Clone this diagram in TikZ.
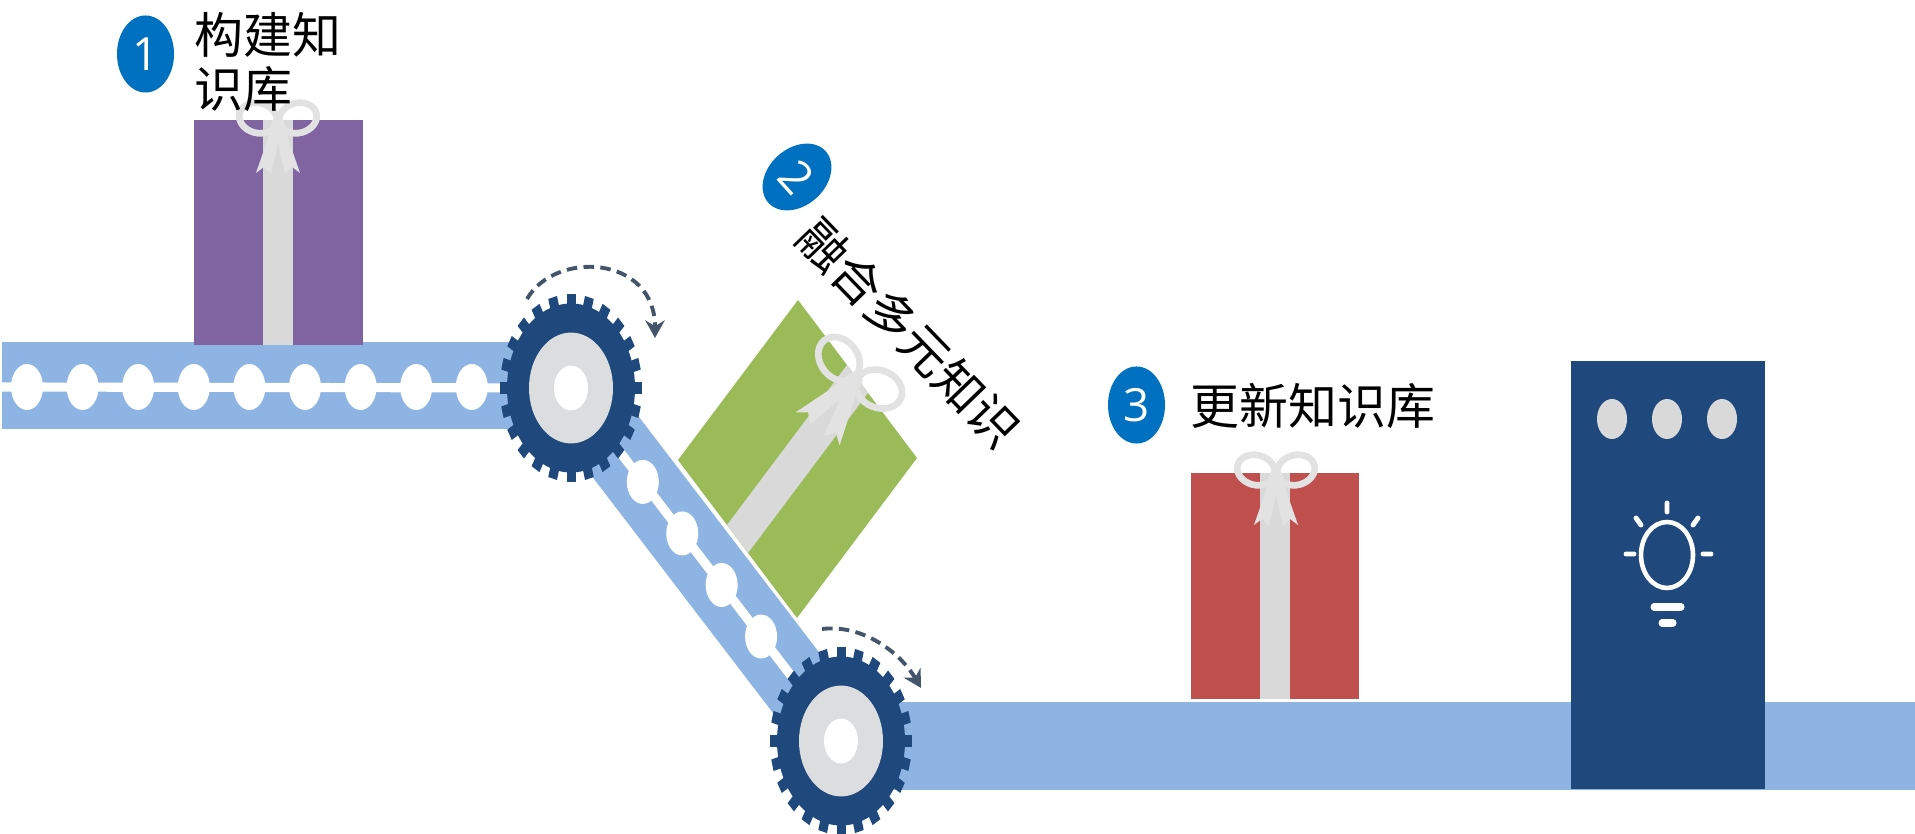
\documentclass[tikz,border=0pt]{standalone}
\usepackage{fontspec}
\usetikzlibrary{arrows.meta,calc,shapes.geometric}

\newfontfamily\cjk{Noto Sans CJK SC}
\newfontfamily\numfont{Open Sans}

\definecolor{beltblue}{HTML}{8EB4E3}
\definecolor{gearblue}{HTML}{1F497D}
\definecolor{hubgray}{HTML}{DCDDDF}
\definecolor{ribbongray}{HTML}{D9D9D9}
\definecolor{bowgray}{HTML}{E2E2E2}
\definecolor{giftpurple}{HTML}{8064A2}
\definecolor{giftgreen}{HTML}{9BBB59}
\definecolor{giftred}{HTML}{C0504D}
\definecolor{numblue}{HTML}{0070C0}
\definecolor{arrowgray}{HTML}{44546A}

\tikzset{
  belt/.style={fill=beltblue},
  beltline/.style={draw=white, line width=2.6pt},
  stepnum/.style={shape=ellipse, fill=numblue, text=white, inner sep=0pt,
    minimum width=0.57cm, minimum height=0.77cm,
    font=\numfont\fontsize{13}{13}\selectfont},
  steptext/.style={inner sep=0pt, font=\cjk\fontsize{13.9}{15.6}\selectfont},
  turn/.style={arrowgray, line width=1.1pt, dash pattern=on 3pt off 1.8pt,
    -{Stealth[length=5pt,width=5.5pt]}},
  % toothed wheel, centre at the pic origin
  gear/.pic={
    \begin{scope}[yscale=1.32]
      \fill[gearblue] (0,0) circle (64);
      \foreach \a in {0,15,...,359}
        \fill[gearblue, rotate=\a] (-4.5,58) rectangle (4.5,71);
      \fill[hubgray] (0,0) circle (42);
      \fill[white] (0,0) circle (17);
    \end{scope}
  },
  % bow on top of a gift, knot at the pic origin
  ribbonbow/.pic={
    \draw[bowgray, line width=1.9pt, rotate around={-15:(-20,-8)}] (-20,-8) ellipse (19 and 15);
    \draw[bowgray, line width=1.9pt, rotate around={15:(20,-8)}] (20,-8) ellipse (19 and 15);
    \fill[bowgray] (-5,-2) -- (-22,47) -- (-14,41) -- (-7,48) -- (3,4) -- cycle;
    \fill[bowgray] (5,-2) -- (22,47) -- (14,41) -- (7,48) -- (-3,4) -- cycle;
    \fill[bowgray] (0,0) ellipse (7 and 9);
  }
}

\begin{document}
\begin{tikzpicture}[x=0.01cm, y=-0.01cm]
  \useasboundingbox (0,0) rectangle (1915,834);

  \coordinate (g1) at (571,388);
  \coordinate (g2) at (841,741);

  % upper belt
  \fill[belt] (2,342) rectangle (571,429);
  \draw[beltline] (2,387) -- (g1);
  \foreach \i in {0,...,8}
    \fill[white] ({27+55.6*\i},387) ellipse (16 and 23);

  % sloping belt
  \fill[belt] (600,366) -- (870,719) -- (812,764) -- (542,411) -- cycle;
  \draw[beltline] (g1) -- (g2);
  \foreach \t in {0.266,0.412,0.558,0.704}
    \fill[white] ($(g1)!\t!(g2)$) ellipse (16 and 22);

  % lower belt
  \fill[belt] (841,702) rectangle (1915,790);

  % gifts
  \fill[giftpurple] (194,120) rectangle (363,345);
  \fill[ribbongray] (263,120) rectangle (293,345);
  \pic (bow1) at (278,126) {ribbonbow};

  \fill[giftgreen] (798,300) -- (917,458) -- (797,618) -- (678,460) -- cycle;
  \fill[ribbongray] (727,525) -- (748,553) -- (868,393) -- (847,365) -- cycle;
  \pic[rotate=-37, scale=1.25] (bow2) at (853,382) {ribbonbow};

  \fill[giftred] (1191,473) rectangle (1359,699);
  \fill[ribbongray] (1260,473) rectangle (1290,699);
  \pic (bow3) at (1276,478) {ribbonbow};

  % machine with lamp
  \fill[gearblue] (1571,361) rectangle (1765,789);
  \foreach \x in {1612,1667,1722}
    \fill[ribbongray] (\x,419) ellipse (15 and 20);
  \draw[white, line width=1.3pt] (1667,555) ellipse (26 and 33);
  \draw[white, line width=1.4pt, line cap=round]
    (1667,503) -- (1667,512)
    (1636,518) -- (1641,525)
    (1698,518) -- (1693,525)
    (1626,554) -- (1634,554)
    (1703,554) -- (1711,554);
  \draw[white, line width=2pt, line cap=round]
    (1654,607) -- (1681,607)
    (1662,623) -- (1673,623);

  % wheels
  \pic (wheel1) at (g1) {gear};
  \pic (wheel2) at (g2) {gear};

  \coordinate (t1s) at (527,299);
  \coordinate (t1e) at (655,338);
  \draw[turn] (t1s) .. controls (555,250) and (655,255) .. (t1e);
  \coordinate (t2s) at (822,629);
  \coordinate (t2e) at (921,688);
  \draw[turn] (t2s) .. controls (862,624) and (900,652) .. (t2e);

  % steps
  \node[stepnum] (n1) at (145.5,54) {1};
  \node[steptext, anchor=west, align=left] (s1) at (194,62) {构建知\\识库};
  \node[stepnum, rotate=-48] (n2) at (797,177) {2};
  \node[steptext, rotate=-46] (s2) at (909,333) {融合多元知识};
  \node[stepnum] (n3) at (1136.5,405) {3};
  \node[steptext, anchor=west] (s3) at (1190,406) {更新知识库};
\end{tikzpicture}
\end{document}
